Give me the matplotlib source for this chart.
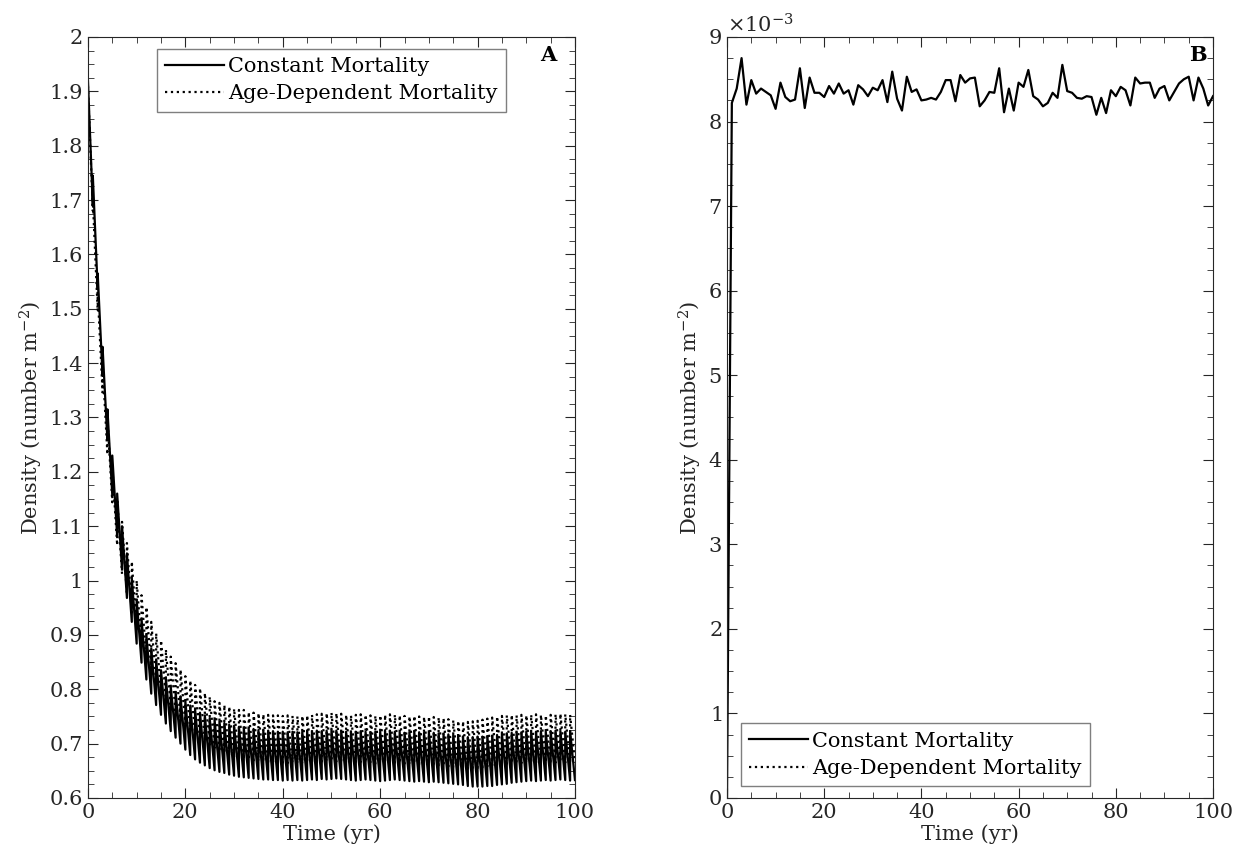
import numpy as np
import matplotlib
matplotlib.use("Agg")
import matplotlib.pyplot as plt
from matplotlib.ticker import MultipleLocator, FuncFormatter, ScalarFormatter

plt.rcParams['font.family'] = ['DejaVu Serif']
plt.rcParams['mathtext.fontset'] = 'dejavuserif'

# panel A: yearly peak (just after recruitment) and trough (just before next) densities
years = np.arange(100)
const_peak = [1.92, 1.745, 1.565, 1.43, 1.315, 1.23, 1.16, 1.10, 1.05, 1.005,
              0.965, 0.93, 0.90, 0.875, 0.855, 0.835, 0.82, 0.805, 0.795, 0.787,
              0.778, 0.77, 0.763, 0.757, 0.752, 0.747, 0.744, 0.741, 0.738, 0.735,
              0.733, 0.731, 0.729, 0.728, 0.727, 0.725, 0.724, 0.724, 0.723, 0.722,
              0.722, 0.721, 0.722, 0.721, 0.722, 0.723, 0.722, 0.724, 0.723, 0.724,
              0.725, 0.724, 0.723, 0.722, 0.721, 0.722, 0.723, 0.722, 0.721, 0.722,
              0.722, 0.723, 0.724, 0.722, 0.721, 0.720, 0.721, 0.722, 0.721, 0.720,
              0.721, 0.720, 0.719, 0.718, 0.717, 0.716, 0.714, 0.713, 0.712, 0.712,
              0.713, 0.713, 0.714, 0.715, 0.716, 0.718, 0.719, 0.720, 0.721, 0.721,
              0.722, 0.721, 0.722, 0.723, 0.722, 0.723, 0.724, 0.723, 0.722, 0.723]
const_trough = [1.69, 1.536, 1.377, 1.258, 1.157, 1.082, 1.021, 0.968, 0.924, 0.884,
                0.849, 0.818, 0.792, 0.771, 0.753, 0.737, 0.723, 0.711, 0.700, 0.689,
                0.679, 0.671, 0.665, 0.660, 0.655, 0.651, 0.648, 0.646, 0.643, 0.641,
                0.639, 0.638, 0.637, 0.636, 0.635, 0.634, 0.634, 0.633, 0.633, 0.632,
                0.633, 0.632, 0.633, 0.632, 0.633, 0.634, 0.633, 0.635, 0.634, 0.635,
                0.636, 0.635, 0.634, 0.633, 0.632, 0.633, 0.634, 0.633, 0.632, 0.631,
                0.632, 0.633, 0.634, 0.633, 0.632, 0.631, 0.630, 0.631, 0.630, 0.629,
                0.630, 0.629, 0.628, 0.627, 0.626, 0.625, 0.624, 0.622, 0.621, 0.621,
                0.621, 0.622, 0.622, 0.624, 0.625, 0.626, 0.628, 0.629, 0.630, 0.631,
                0.632, 0.631, 0.632, 0.633, 0.632, 0.633, 0.634, 0.633, 0.632, 0.633]
age_peak = [1.91, 1.70, 1.53, 1.40, 1.30, 1.21, 1.15, 1.108, 1.069, 1.035,
            1.000, 0.973, 0.951, 0.924, 0.903, 0.890, 0.873, 0.860, 0.848, 0.836,
            0.824, 0.816, 0.808, 0.802, 0.793, 0.786, 0.778, 0.775, 0.771, 0.768,
            0.764, 0.762, 0.762, 0.758, 0.757, 0.756, 0.754, 0.753, 0.752, 0.752,
            0.751, 0.752, 0.751, 0.750, 0.751, 0.752, 0.753, 0.754, 0.755, 0.756,
            0.757, 0.756, 0.755, 0.753, 0.752, 0.753, 0.754, 0.753, 0.752, 0.751,
            0.752, 0.753, 0.754, 0.753, 0.752, 0.751, 0.750, 0.751, 0.750, 0.749,
            0.750, 0.749, 0.748, 0.747, 0.745, 0.743, 0.742, 0.741, 0.740, 0.741,
            0.742, 0.744, 0.746, 0.748, 0.750, 0.751, 0.752, 0.753, 0.752, 0.753,
            0.752, 0.753, 0.754, 0.753, 0.752, 0.753, 0.754, 0.755, 0.754, 0.753]
age_trough = [1.68, 1.496, 1.346, 1.232, 1.144, 1.065, 1.012, 0.975, 0.941, 0.911,
              0.880, 0.856, 0.837, 0.813, 0.795, 0.783, 0.768, 0.757, 0.746, 0.736,
              0.725, 0.718, 0.711, 0.706, 0.698, 0.692, 0.685, 0.682, 0.678, 0.676,
              0.672, 0.671, 0.670, 0.669, 0.668, 0.667, 0.666, 0.666, 0.665, 0.665,
              0.664, 0.665, 0.664, 0.663, 0.664, 0.665, 0.666, 0.667, 0.668, 0.668,
              0.667, 0.666, 0.665, 0.664, 0.665, 0.666, 0.665, 0.664, 0.663, 0.664,
              0.665, 0.666, 0.665, 0.664, 0.663, 0.662, 0.663, 0.662, 0.661, 0.662,
              0.661, 0.660, 0.659, 0.658, 0.656, 0.655, 0.654, 0.653, 0.654, 0.655,
              0.656, 0.658, 0.660, 0.661, 0.662, 0.663, 0.664, 0.665, 0.664, 0.665,
              0.664, 0.665, 0.666, 0.665, 0.664, 0.665, 0.666, 0.665, 0.664, 0.665]

# panel B: yearly density, in units of 1e-3 number m^-2
years_b = np.arange(101)
dens_b = [0.0, 8.22, 8.39, 8.75, 8.20, 8.49, 8.33, 8.39, 8.35, 8.31,
          8.15, 8.46, 8.29, 8.24, 8.26, 8.63, 8.16, 8.52, 8.34, 8.34,
          8.29, 8.42, 8.33, 8.45, 8.33, 8.37, 8.20, 8.43, 8.38, 8.30,
          8.40, 8.37, 8.49, 8.23, 8.59, 8.27, 8.13, 8.53, 8.35, 8.38,
          8.25, 8.26, 8.28, 8.26, 8.35, 8.49, 8.49, 8.24, 8.55, 8.46,
          8.51, 8.52, 8.18, 8.25, 8.35, 8.34, 8.63, 8.11, 8.39, 8.13,
          8.46, 8.41, 8.61, 8.30, 8.26, 8.18, 8.22, 8.34, 8.28, 8.67,
          8.36, 8.34, 8.28, 8.27, 8.30, 8.29, 8.08, 8.28, 8.10, 8.37,
          8.30, 8.41, 8.37, 8.19, 8.52, 8.45, 8.46, 8.46, 8.28, 8.39,
          8.42, 8.25, 8.35, 8.45, 8.50, 8.53, 8.25, 8.52, 8.39, 8.19,
          8.30]

axcol = '#262626'
fs = 15


def sawtooth(peak, trough):
    t = np.column_stack([years, years + 1]).ravel()
    y = np.column_stack([peak, trough]).ravel()
    return t, y


def style(ax):
    for s in ax.spines.values():
        s.set_color(axcol)
        s.set_linewidth(0.8)
    ax.tick_params(which='both', direction='in', top=True, right=True,
                   colors=axcol, labelsize=fs, labelcolor='#262626')
    ax.tick_params(which='major', length=7)
    ax.tick_params(which='minor', length=4)
    ax.xaxis.set_major_locator(MultipleLocator(20))
    ax.xaxis.set_minor_locator(MultipleLocator(5))
    ax.set_xlim(0, 100)
    ax.set_xlabel('Time (yr)', fontsize=fs, color='#262626', labelpad=2)
    ax.set_ylabel('Density (number m$^{-2}$)', fontsize=fs, color='#262626', labelpad=3)


def add_legend(ax, **kw):
    ax.legend(fontsize=fs, fancybox=False, edgecolor='#7f7f7f', framealpha=1,
              handlelength=2.8, handletextpad=0.2, borderpad=0.4,
              labelspacing=0.4, borderaxespad=0.2, **kw)


fig = plt.figure(figsize=(12.44, 8.64), dpi=100)
ax1 = fig.add_axes([0.0707, 0.0764, 0.3915, 0.8808])
ax2 = fig.add_axes([0.5844, 0.0764, 0.3907, 0.8808])

t, y = sawtooth(const_peak, const_trough)
ax1.plot(t, y, color='black', lw=1.6, label='Constant Mortality')
t, y = sawtooth(age_peak, age_trough)
ax1.plot(t, y, color='black', lw=1.6, ls=':', label='Age-Dependent Mortality')
style(ax1)
ax1.set_ylim(0.6, 2)
ax1.yaxis.set_major_locator(MultipleLocator(0.1))
ax1.yaxis.set_minor_locator(MultipleLocator(0.025))
ax1.yaxis.set_major_formatter(FuncFormatter(lambda v, p: '%g' % round(v, 2)))
ax1.text(0.945, 0.976, 'A', transform=ax1.transAxes, fontsize=fs, fontweight='bold',
         ha='center', va='center')
add_legend(ax1, loc='upper center', bbox_to_anchor=(0.5, 0.99))

ax2.plot(years_b, np.array(dens_b) * 1e-3, color='black', lw=1.6, label='Constant Mortality')
ax2.plot([], [], color='black', lw=1.6, ls=':', label='Age-Dependent Mortality')
style(ax2)
ax2.set_ylim(0, 9e-3)
ax2.yaxis.set_major_locator(MultipleLocator(1e-3))
ax2.yaxis.set_minor_locator(MultipleLocator(0.25e-3))
fmt = ScalarFormatter(useMathText=True)
fmt.set_powerlimits((-3, -3))
ax2.yaxis.set_major_formatter(fmt)
ax2.yaxis.get_offset_text().set_fontsize(fs)
ax2.yaxis.get_offset_text().set_color('#262626')
ax2.text(0.969, 0.976, 'B', transform=ax2.transAxes, fontsize=fs, fontweight='bold',
         ha='center', va='center')
add_legend(ax2, loc='lower left', bbox_to_anchor=(0.02, 0.01))

fig.savefig('out.png', dpi=100)
